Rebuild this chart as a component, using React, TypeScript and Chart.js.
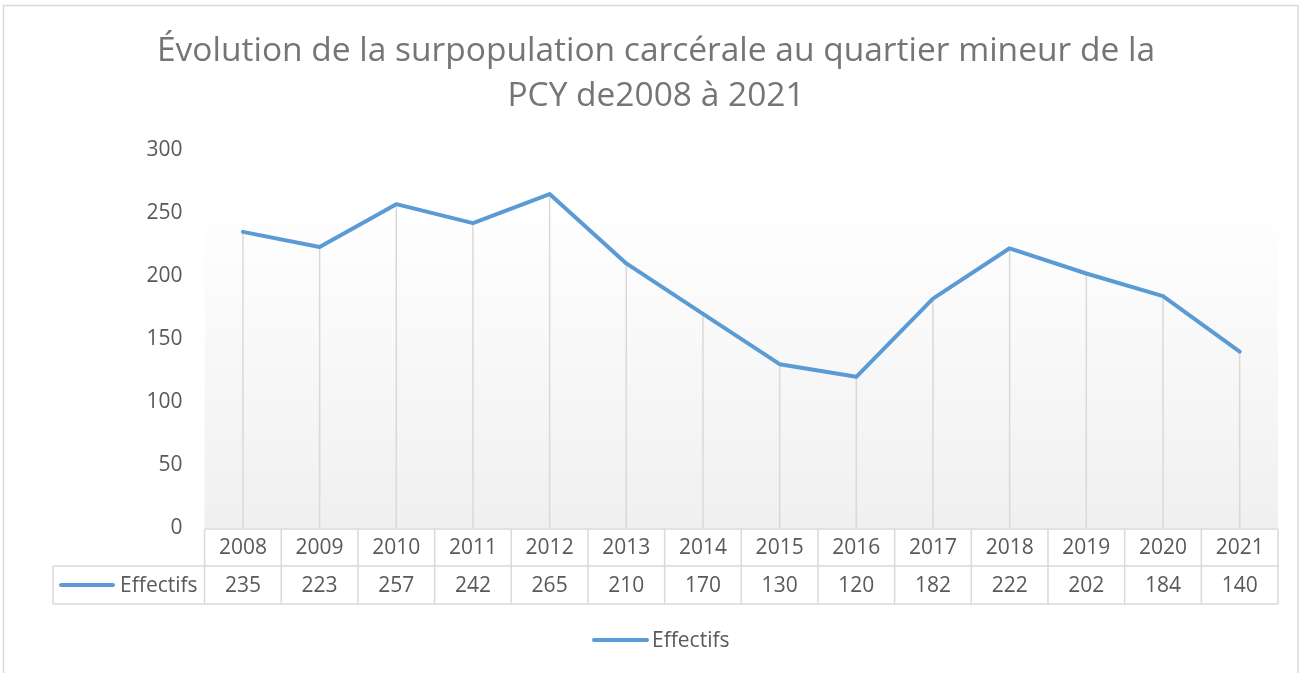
import React, { useEffect, useRef } from "react";
import { Chart, registerables } from "chart.js";

Chart.register(...registerables);

const TITLE_LINES = [
  "Évolution de la surpopulation carcérale au quartier mineur de la",
  "PCY de2008 à 2021",
];
const YEARS = ["2008", "2009", "2010", "2011", "2012", "2013", "2014", "2015", "2016", "2017", "2018", "2019", "2020", "2021"];
const EFFECTIFS = [235, 223, 257, 242, 265, 210, 170, 130, 120, 182, 222, 202, 184, 140];
const SERIES_NAME = "Effectifs";
const Y_MIN = 0;
const Y_MAX = 300;
const Y_STEP = 50;

const FONT = "'Open Sans', 'Noto Sans', sans-serif";
const LINE_COLOR = "#5b9bd5";
const TEXT_COLOR = "#595959";
const TITLE_COLOR = "#757575";
const BORDER_COLOR = "#d9d9d9";

const tablePlugin = {
  id: "excelExtras",
  beforeDatasetsDraw(chart: any) {
    const { ctx, chartArea } = chart;
    const x = chart.scales.x;
    const y = chart.scales.y;
    // gradient plot background
    const bgTop = y.getPixelForValue(258);
    const g = ctx.createLinearGradient(0, bgTop, 0, chartArea.bottom);
    g.addColorStop(0, "#ffffff");
    g.addColorStop(1, "#f0f0f0");
    ctx.save();
    ctx.fillStyle = g;
    ctx.fillRect(chartArea.left, bgTop, chartArea.right - chartArea.left, chartArea.bottom - bgTop);
    // drop lines
    ctx.strokeStyle = BORDER_COLOR;
    ctx.lineWidth = 1.5;
    EFFECTIFS.forEach((v, i) => {
      const px = x.getPixelForValue(i);
      ctx.beginPath();
      ctx.moveTo(px, y.getPixelForValue(v));
      ctx.lineTo(px, chartArea.bottom);
      ctx.stroke();
    });
    ctx.restore();
  },
  afterDraw(chart: any) {
    const { ctx, chartArea, height } = chart;
    const x = chart.scales.x;
    const n = YEARS.length;
    const colW = (chartArea.right - chartArea.left) / n;
    const top = chartArea.bottom + 1;
    const mid = top + 37;
    const bot = mid + 38;
    const leftCol = 53;
    ctx.save();

    // title
    ctx.fillStyle = TITLE_COLOR;
    ctx.font = `33.5px ${FONT}`;
    ctx.textAlign = "center";
    ctx.textBaseline = "middle";
    TITLE_LINES.forEach((t, i) => ctx.fillText(t, 656, 51 + i * 45));

    ctx.strokeStyle = BORDER_COLOR;
    ctx.lineWidth = 1.5;
    ctx.beginPath();
    ctx.moveTo(chartArea.left, top);
    ctx.lineTo(chartArea.right, top);
    ctx.moveTo(leftCol, mid);
    ctx.lineTo(chartArea.right, mid);
    ctx.moveTo(leftCol, bot);
    ctx.lineTo(chartArea.right, bot);
    ctx.moveTo(leftCol, mid);
    ctx.lineTo(leftCol, bot);
    for (let i = 0; i <= n; i++) {
      const px = chartArea.left + i * colW;
      ctx.moveTo(px, top);
      ctx.lineTo(px, bot);
    }
    ctx.stroke();

    ctx.fillStyle = TEXT_COLOR;
    ctx.font = `21px ${FONT}`;
    ctx.textAlign = "center";
    ctx.textBaseline = "middle";
    YEARS.forEach((yr, i) => {
      const px = x.getPixelForValue(i);
      ctx.fillText(yr, px, (top + mid) / 2 + 1);
      ctx.fillText(String(EFFECTIFS[i]), px, (mid + bot) / 2 + 1);
    });
    ctx.textAlign = "right";
    ctx.fillText(SERIES_NAME, chartArea.left - 7, (mid + bot) / 2 + 1);
    ctx.strokeStyle = LINE_COLOR;
    ctx.lineWidth = 4;
    ctx.lineCap = "round";
    ctx.beginPath();
    ctx.moveTo(61, (mid + bot) / 2);
    ctx.lineTo(113, (mid + bot) / 2);
    ctx.stroke();

    // legend
    const ly = 640;
    ctx.beginPath();
    ctx.moveTo(594, ly);
    ctx.lineTo(647, ly);
    ctx.stroke();
    ctx.textAlign = "left";
    ctx.fillText(SERIES_NAME, 652, ly + 1);

    // outer border
    ctx.strokeStyle = BORDER_COLOR;
    ctx.lineWidth = 1.5;
    ctx.lineCap = "butt";
    ctx.strokeRect(3.5, 5.5, 1294.5, height + 10);
    ctx.restore();
  },
};

export default function App() {
  const ref = useRef<HTMLCanvasElement | null>(null);
  useEffect(() => {
    if (!ref.current) return;
    const chart = new Chart(ref.current, {
      type: "line",
      data: {
        labels: YEARS,
        datasets: [
          {
            label: SERIES_NAME,
            data: EFFECTIFS,
            borderColor: LINE_COLOR,
            backgroundColor: LINE_COLOR,
            borderWidth: 4,
            pointRadius: 0,
            tension: 0,
            borderJoinStyle: "round",
            borderCapStyle: "round",
          },
        ],
      },
      options: {
        animation: false,
        responsive: false,
        layout: { padding: { left: 0, right: 30, top: 150, bottom: 0 } },
        plugins: {
          legend: { display: false },
          tooltip: { enabled: false },
          title: { display: false },
        },
        scales: {
          x: {
            type: "category",
            offset: true,
            grid: { display: false, drawTicks: false },
            border: { display: false },
            ticks: { display: false },
            afterFit: (s: any) => {
              s.height = 145;
            },
          },
          y: {
            min: Y_MIN,
            max: Y_MAX,
            grid: { display: false, drawTicks: false },
            border: { display: false },
            ticks: {
              stepSize: Y_STEP,
              color: TEXT_COLOR,
              padding: 22,
              font: { family: FONT, size: 21 },
            },
            afterFit: (s: any) => {
              s.width = 204.6;
            },
          },
        },
      },
      plugins: [tablePlugin],
    } as any);
    return () => chart.destroy();
  }, []);
  return (
    <div style={{ position: "fixed", left: 0, top: 0, width: 1308, height: 673, background: "#fff" }}>
      <canvas ref={ref} width={1308} height={673} style={{ display: "block" }} />
    </div>
  );
}
